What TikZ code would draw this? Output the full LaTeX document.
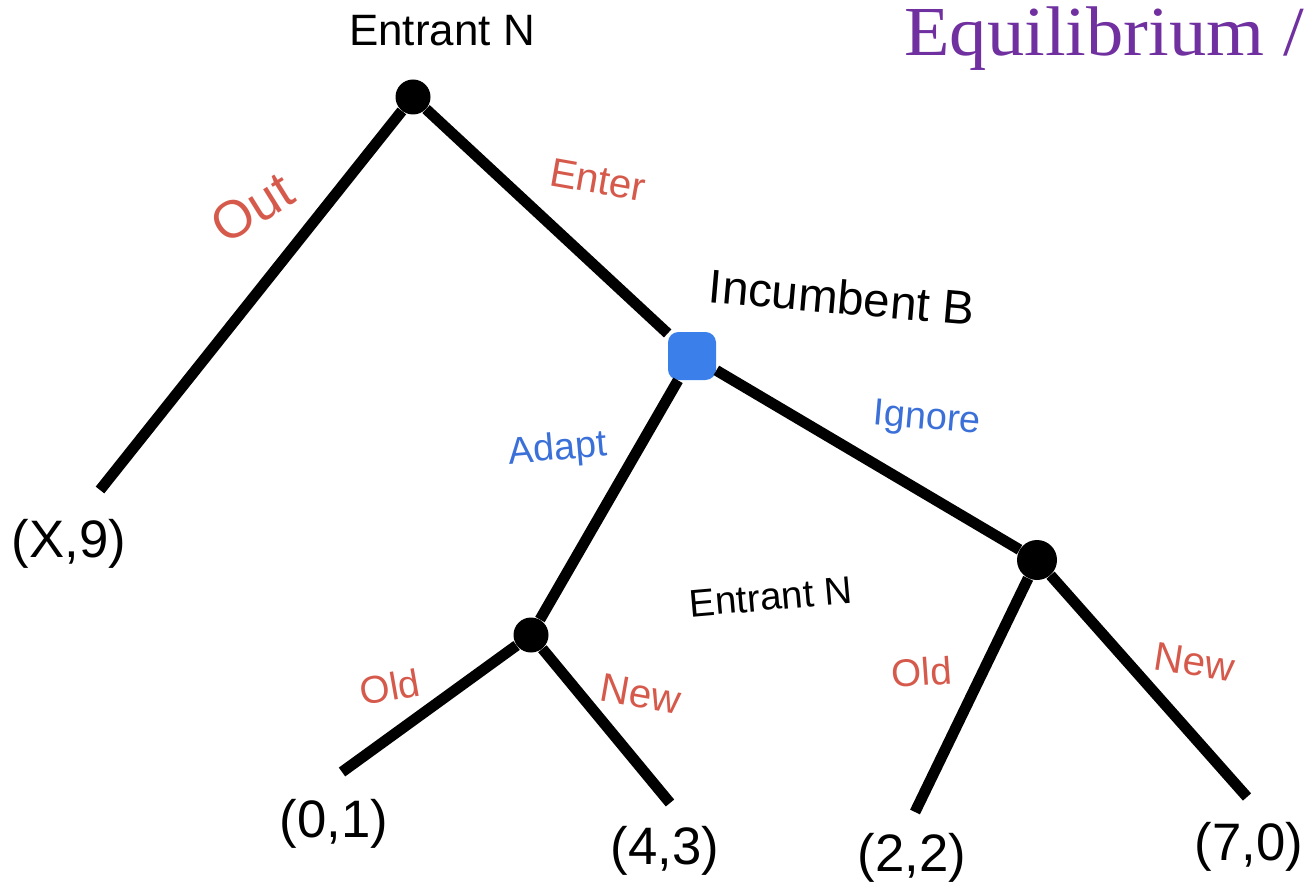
\documentclass[tikz,border=0pt]{standalone}
\usepackage{fontspec}
\setmainfont{Liberation Sans}
\newfontfamily\eqfont{Liberation Serif}
\usepackage{xcolor}
\usetikzlibrary{arrows.meta,shapes}
\definecolor{movered}{HTML}{D65A4C}
\definecolor{moveblue}{HTML}{3B70D8}
\definecolor{sqblue}{HTML}{3A7FEA}
\definecolor{eqpurple}{HTML}{7030A0}
\newlength{\pxu}
\setlength{\pxu}{0.02cm}
\tikzset{
  decision/.style={circle,fill=black,inner sep=0pt,minimum size=35\pxu},
  incumb/.style={rectangle,rounded corners=6pt,fill=sqblue,inner sep=0pt,minimum size=48\pxu},
  branch/.style={line width=6.2pt},
  player/.style={font=\fontsize{25}{30}\selectfont},
  payoff/.style={font=\fontsize{30}{36}\selectfont},
  redmove/.style={text=movered,font=\fontsize{23}{28}\selectfont},
  bluemove/.style={text=moveblue,font=\fontsize{21.5}{26}\selectfont}
}
\begin{document}
\begin{tikzpicture}[x=0.02cm,y=-0.02cm]
\useasboundingbox (0,0) rectangle (1304,888);
% nodes of the tree
\node[decision](root) at (413,97){};
\node[incumb](inc) at (692,356){};
\node[decision](adN) at (531,635){};
\node[decision,minimum height=40\pxu](igN) at (1037,560){};
% free ends
\coordinate(outE) at (100,490);
\coordinate(a1) at (342,772);
\coordinate(a2) at (670,803);
\coordinate(i1) at (915,812);
\coordinate(i2) at (1247,797);
% branches
\draw[branch](root)--(outE);
\draw[branch](root)--(inc);
\draw[branch](inc)--(adN);
\draw[branch](inc)--(igN);
\draw[branch](adN)--(a1);
\draw[branch](adN)--(a2);
\draw[branch](igN)--(i1);
\draw[branch](igN)--(i2);
% players
\node[player](pN1) at (442,31){Entrant N};
\node[player,font=\fontsize{27}{32}\selectfont,rotate=-5](pB) at (842,297){Incumbent B};
\node[player,font=\fontsize{22}{26}\selectfont,rotate=5](pN2) at (771,597){Entrant N};
% moves
\node[redmove,font=\fontsize{30}{36}\selectfont,rotate=32](mOut) at (252,208){Out};
\node[redmove,rotate=-10](mEnter) at (598,180){Enter};
\node[bluemove,rotate=5](mAdapt) at (558,450){Adapt};
\node[bluemove,rotate=-5](mIgnore) at (927,420){Ignore};
\node[redmove,font=\fontsize{22}{26}\selectfont,rotate=10](mOld1) at (390,687){Old};
\node[redmove,rotate=-10](mNew1) at (641,694){New};
\node[redmove,font=\fontsize{22}{26}\selectfont,rotate=4](mOld2) at (922,672){Old};
\node[redmove,rotate=-9](mNew2) at (1195,662){New};
% payoffs
\node[payoff](uX) at (69,544){(X,9)};
\node[payoff](u01) at (334,824){(0,1)};
\node[payoff](u43) at (665,851){(4,3)};
\node[payoff](u22) at (912,858){(2,2)};
\node[payoff](u70) at (1249,847){(7,0)};
% title
\node[anchor=base west,text=eqpurple,font=\eqfont\fontsize{40}{48}\selectfont,inner sep=0pt,xscale=1.06,transform shape](eq) at (904,56){Equilibrium /};
\end{tikzpicture}
\end{document}
